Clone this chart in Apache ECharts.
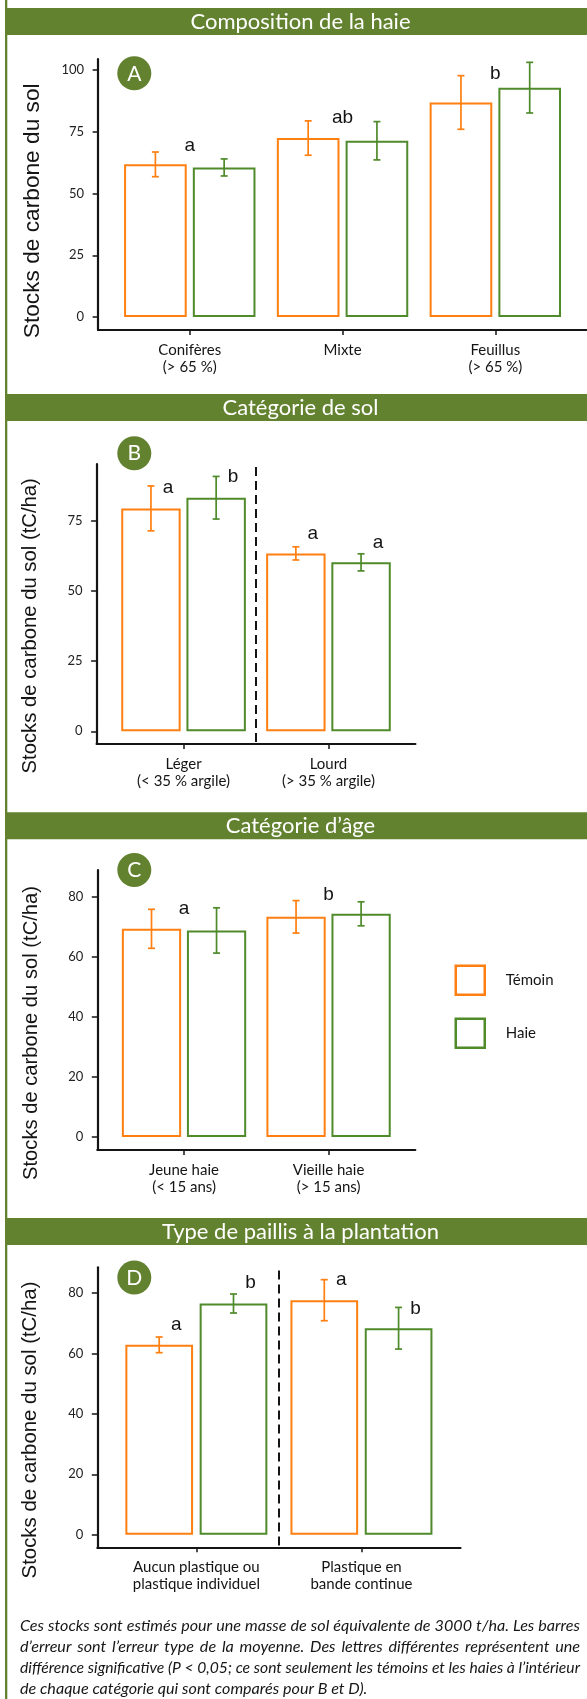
<!DOCTYPE html>
<html>
<head>
<meta charset="utf-8">
<script src="https://cdn.jsdelivr.net/npm/echarts@6/dist/echarts.min.js"></script>
<style>
  html, body { margin: 0; padding: 0; background: #ffffff; }
  #chart { width: 587px; height: 1699px; }
</style>
</head>
<body>
<div id="chart"></div>
<script>
// ---------- data ----------
const seriesNames = ['Témoin', 'Haie'];

const panelTitles = ['Composition de la haie', 'Catégorie de sol', 'Catégorie d’âge', 'Type de paillis à la plantation'];
const panelTags = ['A', 'B', 'C', 'D'];
const yTitles = ['Stocks de carbone du sol', 'Stocks de carbone du sol (tC/ha)',
                 'Stocks de carbone du sol (tC/ha)', 'Stocks de carbone du sol (tC/ha)'];

// A : composition de la haie
const categoriesA = ['Conifères\n(> 65 %)', 'Mixte', 'Feuillus\n(> 65 %)'];
const temoinA = [61.8, 72.45, 86.85];
const haieA = [60.55, 71.35, 92.85];
const temoinSeA = [5.0, 6.95, 10.85];
const haieSeA = [3.45, 7.75, 10.25];
const lettersA = ['a', 'ab', 'b'];
const letterYA = [69.4, 80.6, 98.4];
const ticksA = [0, 25, 50, 75, 100];

// B : catégorie de sol
const categoriesB = ['Léger\n(< 35 % argile)', 'Lourd\n(> 35 % argile)'];
const temoinB = [79.5, 63.45];
const haieB = [83.3, 60.25];
const temoinSeB = [8.0, 2.35];
const haieSeB = [7.6, 3.05];
const lettersTemoinB = ['a', 'a'];
const lettersHaieB = ['b', 'a'];
const letterYTemoinB = [86.7, 70.6];
const letterYHaieB = [90.6, 67.4];
const ticksB = [0, 25, 50, 75];

// C : catégorie d'âge
const categoriesC = ['Jeune haie\n(< 15 ans)', 'Vieille haie\n(> 15 ans)'];
const temoinC = [69.4, 73.4];
const haieC = [68.85, 74.4];
const temoinSeC = [6.5, 5.4];
const haieSeC = [7.55, 4.0];
const lettersC = ['a', 'b'];
const letterYC = [76.2, 80.9];
const ticksC = [0, 20, 40, 60, 80];

// D : type de paillis
const categoriesD = ['Aucun plastique ou\nplastique individuel', 'Plastique en\nbande continue'];
const temoinD = [62.9, 77.7];
const haieD = [76.6, 68.4];
const temoinSeD = [2.6, 6.8];
const haieSeD = [3.15, 6.9];
const lettersTemoinD = ['a', 'a'];
const lettersHaieD = ['b', 'b'];
const letterYTemoinD = [69.5, 84.4];
const letterYHaieD = [83.5, 74.9];
const ticksD = [0, 20, 40, 60, 80];

const captionLines = [
  'Ces stocks sont estimés pour une masse de sol équivalente de 3000 t/ha. Les barres',
  'd’erreur sont l’erreur type de la moyenne. Des lettres différentes représentent une',
  'différence significative (P < 0,05; ce sont seulement les témoins et les haies à l’intérieur',
  'de chaque catégorie qui sont comparés pour B et D).'
];

// ---------- styling / layout ----------
const ORANGE = '#ff7f11';
const GREEN = '#4f8a2b';
const BAND = '#63822f';
const INK = '#141414';
const SANS = 'Lato, "Open Sans", sans-serif';
const ARIAL = '"Liberation Sans", Arial, sans-serif';
const DODGE = 0.225;        // half distance between the two bars of a group (axis units)
const LETTER_DX = 17;       // px shift of per-bar letters

const frames = [
  { bandY: 8,      left: 98.1, top: 59,     width: 492.5, height: 271, xMax: 3.6, yMin: -5.26, yMax: 104.45,
    yTitle: [32.6, 210.8], yTitleSize: 22.7, tagY: 73.3, divider: false },
  { bandY: 394,    left: 96.6, top: 464,    width: 318.8, height: 280, xMax: 2.6, yMin: -4.53, yMax: 95.33,
    yTitle: [30, 625.8], yTitleSize: 20.3, tagY: 453.2, divider: true },
  { bandY: 812.3,  left: 97.3, top: 870,    width: 318,   height: 280, xMax: 2.6, yMin: -4.33, yMax: 89,
    yTitle: [31.8, 1033], yTitleSize: 20.2, tagY: 870, divider: false },
  { bandY: 1218,   left: 97.3, top: 1267.3, width: 363.2, height: 280, xMax: 2.6, yMin: -4.2, yMax: 88.6,
    yTitle: [30, 1430], yTitleSize: 20.4, tagY: 1277.5, divider: true }
];

// ---------- assemble panels from the arrays ----------
function groupLetters(letters, ys) {
  return letters.map((t, i) => ({ x: i + 1, y: ys[i], dx: 0, text: t }));
}
function barLetters(lt, lh, yt, yh) {
  const out = [];
  lt.forEach((t, i) => out.push({ x: i + 1 - DODGE, y: yt[i], dx: LETTER_DX, text: t }));
  lh.forEach((t, i) => out.push({ x: i + 1 + DODGE, y: yh[i], dx: LETTER_DX, text: t }));
  return out;
}

const panels = [
  { cats: categoriesA, temoin: temoinA, haie: haieA, seT: temoinSeA, seH: haieSeA, ticks: ticksA,
    letters: groupLetters(lettersA, letterYA) },
  { cats: categoriesB, temoin: temoinB, haie: haieB, seT: temoinSeB, seH: haieSeB, ticks: ticksB,
    letters: barLetters(lettersTemoinB, lettersHaieB, letterYTemoinB, letterYHaieB) },
  { cats: categoriesC, temoin: temoinC, haie: haieC, seT: temoinSeC, seH: haieSeC, ticks: ticksC,
    letters: groupLetters(lettersC, letterYC) },
  { cats: categoriesD, temoin: temoinD, haie: haieD, seT: temoinSeD, seH: haieSeD, ticks: ticksD,
    letters: barLetters(lettersTemoinD, lettersHaieD, letterYTemoinD, letterYHaieD) }
];

const grids = [], xAxes = [], yAxes = [], series = [], graphics = [];

// outer frame: left rule
graphics.push({ type: 'rect', shape: { x: 5, y: 0, width: 2.3, height: 1699 }, style: { fill: BAND }, silent: true });

panels.forEach((p, k) => {
  const f = frames[k];
  const catIdx = p.cats.map((_, i) => i + 1);

  grids.push({ left: f.left, top: f.top, width: f.width, height: f.height, containLabel: false });

  xAxes.push({
    type: 'value', gridIndex: k, min: 0.4, max: f.xMax,
    axisLine: { show: true, onZero: false, lineStyle: { color: INK, width: 2.2 } },
    axisTick: { show: true, customValues: catIdx, length: 5, lineStyle: { color: INK, width: 1.5 } },
    axisLabel: {
      show: true, customValues: catIdx, margin: 12,
      formatter: v => p.cats[Math.round(v) - 1] || '',
      fontFamily: SANS, fontSize: 15, lineHeight: 16.7, color: INK, align: 'center'
    },
    splitLine: { show: false }
  });

  yAxes.push({
    type: 'value', gridIndex: k, min: f.yMin, max: f.yMax,
    axisLine: { show: true, lineStyle: { color: INK, width: 2.2 } },
    axisTick: { show: true, customValues: p.ticks, length: 5.5, lineStyle: { color: INK, width: 1.5 } },
    axisLabel: { show: true, customValues: p.ticks, margin: 14, fontFamily: SANS, fontSize: 13, color: '#222' },
    splitLine: { show: false }
  });

  const barStyle = (c) => ({ color: '#ffffff', borderColor: c, borderWidth: 2 });

  series.push({
    name: seriesNames[0], type: 'bar', xAxisIndex: k, yAxisIndex: k,
    barWidth: '41%', barGap: '9.76%',
    itemStyle: barStyle(ORANGE), emphasis: { disabled: true },
    data: p.temoin.map((v, i) => [i + 1, v])
  });
  series.push({
    name: seriesNames[1], type: 'bar', xAxisIndex: k, yAxisIndex: k,
    barWidth: '41%', barGap: '9.76%',
    itemStyle: barStyle(GREEN), emphasis: { disabled: true },
    data: p.haie.map((v, i) => [i + 1, v])
  });

  // error bars (mean ± standard error); also carries the dashed separator between categories
  const errData = [];
  p.temoin.forEach((v, i) => errData.push([i + 1 - DODGE, v - p.seT[i], v + p.seT[i], 0]));
  p.haie.forEach((v, i) => errData.push([i + 1 + DODGE, v - p.seH[i], v + p.seH[i], 1]));
  series.push({
    name: 'se-' + panelTags[k], type: 'custom', xAxisIndex: k, yAxisIndex: k, silent: true, z: 5,
    encode: { x: 0, y: [1, 2] },
    data: errData,
    renderItem: (params, api) => {
      const lo = api.coord([api.value(0), api.value(1)]);
      const hi = api.coord([api.value(0), api.value(2)]);
      const c = api.value(3) === 0 ? ORANGE : GREEN;
      const w = 3.5;
      const st = { stroke: c, lineWidth: 1.7 };
      return {
        type: 'group', children: [
          { type: 'line', shape: { x1: hi[0], y1: hi[1], x2: lo[0], y2: lo[1] }, style: st },
          { type: 'line', shape: { x1: hi[0] - w, y1: hi[1], x2: hi[0] + w, y2: hi[1] }, style: st },
          { type: 'line', shape: { x1: lo[0] - w, y1: lo[1], x2: lo[0] + w, y2: lo[1] }, style: st }
        ]
      };
    },
    markLine: f.divider ? {
      silent: true, symbol: ['none', 'none'], label: { show: false },
      lineStyle: { color: INK, width: 2, type: [9, 5] },
      data: [[{ coord: [1.5, f.yMax - 1.1] }, { coord: [1.5, f.yMin] }]]
    } : undefined
  });

  // significance letters
  series.push({
    name: 'letters-' + panelTags[k], type: 'custom', xAxisIndex: k, yAxisIndex: k, silent: true, z: 6,
    encode: { x: 0, y: 1 },
    data: p.letters.map(l => [l.x, l.y]),
    renderItem: (params, api) => {
      const item = p.letters[params.dataIndex];
      const pt = api.coord([api.value(0), api.value(1)]);
      return {
        type: 'text', x: pt[0] + item.dx, y: pt[1],
        style: { text: item.text, fontFamily: ARIAL, fontSize: 19, fill: INK, align: 'center', verticalAlign: 'middle' }
      };
    }
  });

  // section band with its title
  graphics.push({ type: 'rect', shape: { x: 7, y: f.bandY, width: 580, height: 27 }, style: { fill: BAND }, silent: true });
  graphics.push({ type: 'text', x: 300.5, y: f.bandY + 13.5,
    style: { text: panelTitles[k], fontFamily: SANS, fontSize: 22, fill: '#ffffff', align: 'center', verticalAlign: 'middle' } });

  // panel tag
  graphics.push({ type: 'circle', shape: { cx: 134.3, cy: f.tagY, r: 17 }, style: { fill: BAND }, silent: true });
  graphics.push({ type: 'text', x: 134.3, y: f.tagY + 0.5,
    style: { text: panelTags[k], fontFamily: SANS, fontSize: 21, fill: '#ffffff', align: 'center', verticalAlign: 'middle' } });

  // y axis title
  graphics.push({ type: 'text', x: f.yTitle[0], y: f.yTitle[1], rotation: Math.PI / 2,
    style: { text: yTitles[k], fontFamily: ARIAL, fontSize: f.yTitleSize, fill: INK, align: 'center', verticalAlign: 'middle' } });
});

// caption, justified word by word between the two margins
function captionElements() {
  const x0 = 20, x1 = 580, y0 = 1625.7, lh = 20.9;
  const ctx = document.createElement('canvas').getContext('2d');
  ctx.font = 'italic 14px Lato';
  // font size chosen so the first line just fills the measure
  const size = 14 * (x1 - x0 - 3) / ctx.measureText(captionLines[0]).width;
  ctx.font = 'italic ' + size + 'px Lato';
  const els = [];
  const base = { fontFamily: 'Lato', fontStyle: 'italic', fontSize: size, fill: '#161616', align: 'left', verticalAlign: 'middle' };
  captionLines.forEach((line, i) => {
    const y = y0 + i * lh;
    const natural = ctx.measureText(line).width;
    if (i === captionLines.length - 1) {
      els.push({ type: 'text', x: x0, y, style: Object.assign({}, base, { text: line }) });
      return;
    }
    if (natural >= x1 - x0) {
      els.push({ type: 'text', x: x0, y, scaleX: (x1 - x0) / natural, style: Object.assign({}, base, { text: line }) });
      return;
    }
    const words = line.split(' ');
    const widths = words.map(w => ctx.measureText(w).width);
    const gap = (x1 - x0 - widths.reduce((a, b) => a + b, 0)) / (words.length - 1);
    let x = x0;
    words.forEach((w, j) => {
      els.push({ type: 'text', x, y, style: Object.assign({}, base, { text: w }) });
      x += widths[j] + gap;
    });
  });
  return els;
}
captionElements().forEach(e => graphics.push(e));

const chart = echarts.init(document.getElementById('chart'), null, { renderer: 'canvas', width: 587, height: 1699 });
chart.setOption({
  animation: false,
  backgroundColor: '#ffffff',
  grid: grids,
  xAxis: xAxes,
  yAxis: yAxes,
  legend: {
    orient: 'vertical', left: 454.5, top: 964.5, padding: 0,
    itemWidth: 29, itemHeight: 29, itemGap: 21.5, selectedMode: false,
    icon: 'rect',
    textStyle: { fontFamily: SANS, fontSize: 15, color: INK, padding: [0, 0, 0, 16] },
    data: [
      { name: seriesNames[0], itemStyle: { color: '#ffffff', borderColor: ORANGE, borderWidth: 2.5 } },
      { name: seriesNames[1], itemStyle: { color: '#ffffff', borderColor: GREEN, borderWidth: 2.5 } }
    ]
  },
  series: series,
  graphic: { elements: graphics }
});
</script>
</body>
</html>
